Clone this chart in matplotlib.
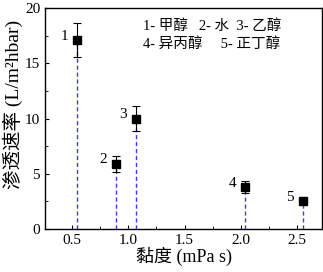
import matplotlib
matplotlib.use('Agg')
import matplotlib.pyplot as plt
from matplotlib.ticker import MultipleLocator

# 数据 (黏度 vs 渗透速率)
viscosity = [0.547, 0.887, 1.066, 2.04, 2.55]
flux = [17.1, 5.9, 10.0, 3.8, 2.5]
flux_err = [1.5, 0.7, 1.1, 0.5, 0.0]
point_labels = ['1', '2', '3', '4', '5']
legend_lines = ['1- 甲醇   2- 水  3- 乙醇', '4- 异丙醇     5- 正丁醇']

plt.rcParams['font.family'] = ['Liberation Serif', 'Noto Sans CJK SC']

fig = plt.figure(figsize=(3.23, 2.72), dpi=100)
ax = fig.add_axes([45 / 323, 1 - 229 / 272, 277 / 323, 221 / 272])

ax.vlines(viscosity, 0, flux, colors='#3a3aff', linestyles=(0, (3, 2)), linewidth=1.0)
ax.errorbar(viscosity, flux, yerr=flux_err, fmt='s', color='black',
            markersize=6, ecolor='black', elinewidth=0.8, capsize=3, capthick=0.8)

for x, y, lab in zip(viscosity, flux, point_labels):
    ax.text(x - 0.08, y + 0.35, lab, ha='right', va='center', fontsize=11)

ax.text(0.354, 0.919, legend_lines[0], transform=ax.transAxes, fontsize=10.5, va='center')
ax.text(0.354, 0.837, legend_lines[1], transform=ax.transAxes, fontsize=10.5, va='center')

ax.set_xlim(0.26, 2.72)
ax.set_ylim(0, 20)
ax.xaxis.set_major_locator(MultipleLocator(0.5))
ax.xaxis.set_minor_locator(MultipleLocator(0.25))
ax.yaxis.set_major_locator(MultipleLocator(5))
ax.yaxis.set_minor_locator(MultipleLocator(2.5))
ax.tick_params(direction='in', which='both', labelsize=11)
ax.tick_params(which='major', length=3)
ax.tick_params(which='minor', length=2)
for s in ax.spines.values():
    s.set_linewidth(1.0)

ax.set_xlabel('黏度 (mPa s)', fontsize=13, labelpad=0)
ax.set_ylabel('渗透速率 (L/m²hbar)', fontsize=14, labelpad=1)
ax.yaxis.set_label_coords(-0.078, 0.565)

fig.savefig('out.png', dpi=100)
